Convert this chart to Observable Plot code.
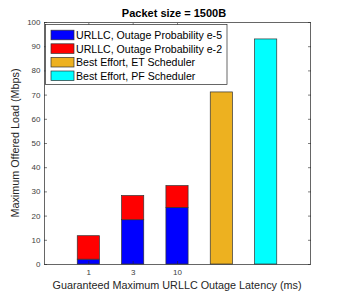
<!DOCTYPE html>
<html>
<head>
<meta charset="utf-8">
<script src="https://cdn.jsdelivr.net/npm/d3@7"></script>
<script src="https://cdn.jsdelivr.net/npm/@observablehq/plot@0.6"></script>
<style>
  html, body { margin: 0; padding: 0; background: #fff; }
  svg { display: block; }
</style>
</head>
<body>
<div id="chart"></div>
<script>
// Data
const latencyLabels = ["1", "3", "10"];
const urllcE5 = [2.0, 18.3, 23.4];      // Outage probability e-5
const urllcE2 = [11.7, 28.3, 32.4];     // Outage probability e-2 (stack top)
const bestEffortNames = ["ET Scheduler", "PF Scheduler"];
const bestEffortValues = [71.1, 93.0];
const yTicks = [0, 10, 20, 30, 40, 50, 60, 70, 80, 90, 100];
const seriesNames = [
  "URLLC, Outage Probability e-5",
  "URLLC, Outage Probability e-2",
  "Best Effort, ET Scheduler",
  "Best Effort, PF Scheduler"
];
const seriesColors = ["#0000ff", "#ff0000", "#edb120", "#00ffff"];

// Build rect table
const rects = [];
latencyLabels.forEach((l, i) => {
  rects.push({pos: i + 1, y1: 0, y2: urllcE5[i], s: 0});
  rects.push({pos: i + 1, y1: urllcE5[i], y2: urllcE2[i], s: 1});
});
bestEffortValues.forEach((v, i) => {
  rects.push({pos: latencyLabels.length + 1 + i, y1: 0, y2: v, s: 2 + i});
});
const half = 0.25;
const xTickPos = latencyLabels.map((_, i) => i + 1);

const font = "'Liberation Sans', Arial, Helvetica, sans-serif";
const W = 342, H = 297;
const mL = 44, mR = 32, mT = 22, mB = 33;

const chart = Plot.plot({
  width: W, height: H,
  marginLeft: mL, marginRight: mR, marginTop: mT, marginBottom: mB,
  style: {fontFamily: font, background: "#fff", color: "#262626"},
  x: {domain: [0, 6], axis: null},
  y: {domain: [0, 100], axis: null},
  marks: [
    Plot.rect(rects, {
      x1: d => d.pos - half, x2: d => d.pos + half,
      y1: "y1", y2: "y2",
      fill: d => seriesColors[d.s],
      stroke: "#333", strokeWidth: 0.7
    }),
    Plot.frame({stroke: "#262626", strokeWidth: 0.7}),
    Plot.axisY(yTicks, {anchor: "left", tickSize: -3, tickPadding: 7, fontSize: 8, stroke: "#262626", strokeWidth: 0.6, fill: "#404040"}),
    Plot.axisY(yTicks, {anchor: "right", tickSize: -3, tickFormat: () => "", stroke: "#262626", strokeWidth: 0.6}),
    Plot.axisX(xTickPos, {anchor: "bottom", tickSize: -3, tickPadding: 8, fontSize: 8, tickFormat: (d) => latencyLabels[d - 1], stroke: "#262626", strokeWidth: 0.6, fill: "#404040"}),
    Plot.axisX(xTickPos, {anchor: "top", tickSize: -3, tickFormat: () => "", stroke: "#262626", strokeWidth: 0.6})
  ]
});

const svg = d3.select(chart);
const plotCx = mL + (W - mL - mR) / 2;
// Title
svg.append("text").attr("x", plotCx - 3).attr("y", 17)
  .attr("text-anchor", "middle").attr("font-family", font)
  .attr("font-size", 11).attr("font-weight", "bold").attr("fill", "#000")
  .text("Packet size = 1500B");
// X label
svg.append("text").attr("x", plotCx).attr("y", 289)
  .attr("text-anchor", "middle").attr("font-family", font)
  .attr("font-size", 10.8).attr("fill", "#262626")
  .text("Guaranteed Maximum URLLC Outage Latency (ms)");
// Y label
svg.append("text").attr("transform", `translate(19, ${mT + (H - mT - mB) / 2}) rotate(-90)`)
  .attr("text-anchor", "middle").attr("font-family", font)
  .attr("font-size", 10.8).attr("fill", "#262626")
  .text("Maximum Offered Load (Mbps)");
// Legend
const lg = svg.append("g");
lg.append("rect").attr("x", 45.5).attr("y", 24.5).attr("width", 181.5).attr("height", 60)
  .attr("fill", "#fff").attr("stroke", "#262626").attr("stroke-width", 0.7);
seriesNames.forEach((n, i) => {
  const cy = 35 + i * 13.6;
  lg.append("rect").attr("x", 51).attr("y", cy - 4.8).attr("width", 23).attr("height", 9.6)
    .attr("fill", seriesColors[i]).attr("stroke", "#333").attr("stroke-width", 0.7);
  lg.append("text").attr("x", 76).attr("y", cy + 4).attr("font-family", font)
    .attr("text-anchor", "start")
    .attr("font-size", 10.6).attr("fill", "#000").text(n);
});

document.getElementById("chart").appendChild(chart);
</script>
</body>
</html>
